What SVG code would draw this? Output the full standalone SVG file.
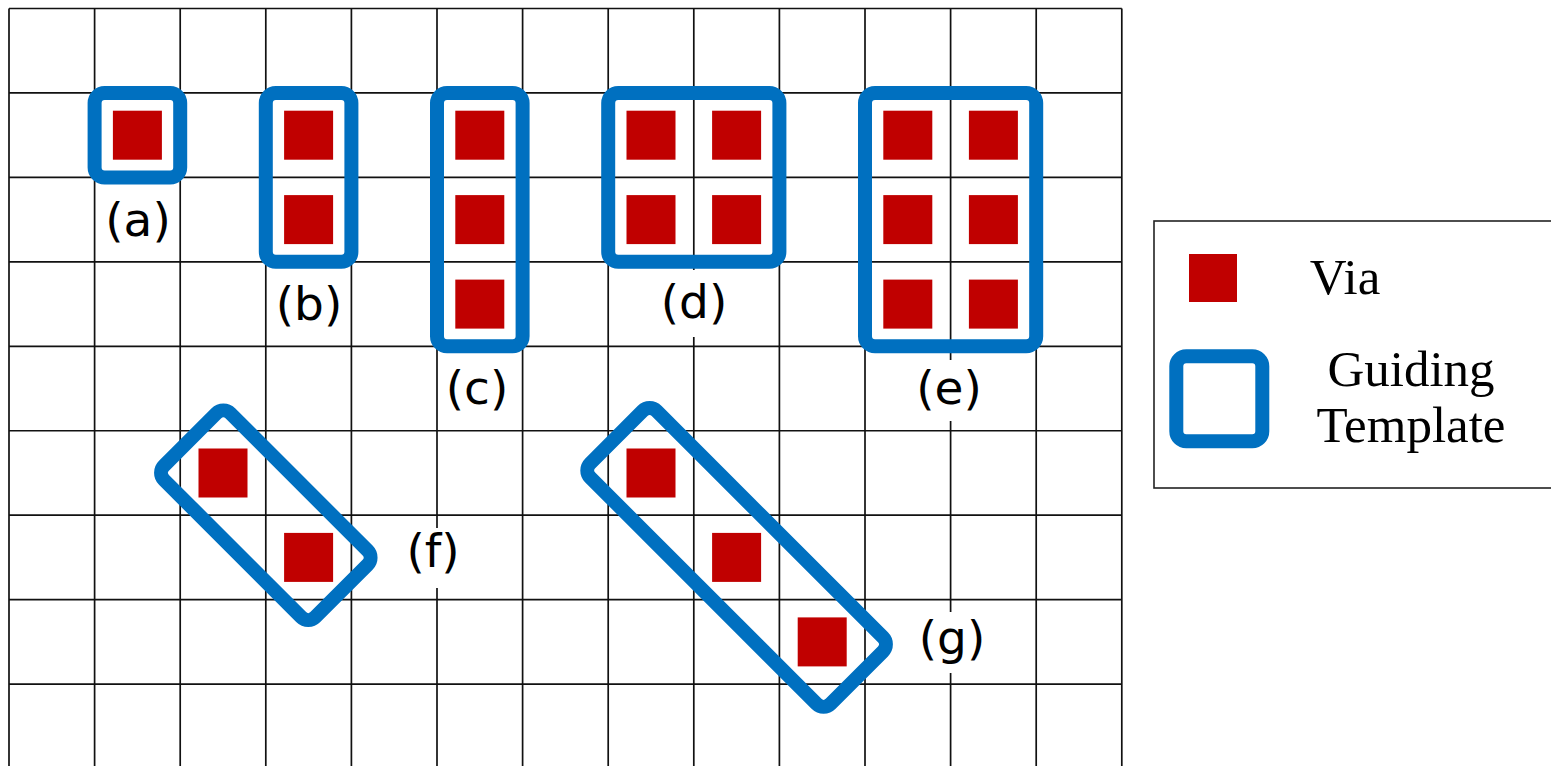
<svg xmlns="http://www.w3.org/2000/svg" width="1551" height="766" viewBox="0 0 1551 766">
<style>
.grid line{stroke:#111;stroke-width:1.7}
.via{fill:#C00000}
.tpl{fill:none;stroke:#0070C0;stroke-width:14}
.lbl{font-family:"DejaVu Sans",sans-serif;font-size:47px;fill:#000;text-anchor:middle}
.leg{font-family:"Liberation Serif",serif;font-size:51px;fill:#000;text-anchor:middle}
.bg{fill:#fff}
</style>
<defs>
<rect id="v" class="via" x="-24.5" y="-24.5" width="49" height="49"/>
</defs>
<rect width="1551" height="766" fill="#fff"/>
<g class="grid" id="grid">
<line x1="9" y1="8.5" x2="9" y2="766"/>
<line x1="94.6" y1="8.5" x2="94.6" y2="766"/>
<line x1="180.2" y1="8.5" x2="180.2" y2="766"/>
<line x1="265.8" y1="8.5" x2="265.8" y2="766"/>
<line x1="351.4" y1="8.5" x2="351.4" y2="766"/>
<line x1="437" y1="8.5" x2="437" y2="766"/>
<line x1="522.6" y1="8.5" x2="522.6" y2="766"/>
<line x1="608.2" y1="8.5" x2="608.2" y2="766"/>
<line x1="693.8" y1="8.5" x2="693.8" y2="766"/>
<line x1="779.4" y1="8.5" x2="779.4" y2="766"/>
<line x1="865" y1="8.5" x2="865" y2="766"/>
<line x1="950.6" y1="8.5" x2="950.6" y2="766"/>
<line x1="1036.2" y1="8.5" x2="1036.2" y2="766"/>
<line x1="1121.8" y1="8.5" x2="1121.8" y2="766"/>
<line x1="9" y1="8.5" x2="1121.8" y2="8.5"/>
<line x1="9" y1="92.95" x2="1121.8" y2="92.95"/>
<line x1="9" y1="177.4" x2="1121.8" y2="177.4"/>
<line x1="9" y1="261.85" x2="1121.8" y2="261.85"/>
<line x1="9" y1="346.3" x2="1121.8" y2="346.3"/>
<line x1="9" y1="430.75" x2="1121.8" y2="430.75"/>
<line x1="9" y1="515.2" x2="1121.8" y2="515.2"/>
<line x1="9" y1="599.65" x2="1121.8" y2="599.65"/>
<line x1="9" y1="684.1" x2="1121.8" y2="684.1"/>
</g>
<g id="a">
<use href="#v" x="137.4" y="135.2"/>
<rect class="tpl" x="94.6" y="92.95" width="85.6" height="84.45" rx="10"/>
<text class="lbl" x="138" y="236">(a)</text>
</g>
<g id="b">
<use href="#v" x="308.6" y="135.2"/>
<use href="#v" x="308.6" y="219.6"/>
<rect class="tpl" x="265.8" y="92.95" width="85.6" height="168.9" rx="10"/>
<text class="lbl" x="309" y="320">(b)</text>
</g>
<g id="c">
<use href="#v" x="479.8" y="135.2"/>
<use href="#v" x="479.8" y="219.6"/>
<use href="#v" x="479.8" y="304.1"/>
<rect class="tpl" x="437" y="92.95" width="85.6" height="253.35" rx="10"/>
<text class="lbl" x="477" y="404">(c)</text>
</g>
<g id="d">
<use href="#v" x="651" y="135.2"/>
<use href="#v" x="736.6" y="135.2"/>
<use href="#v" x="651" y="219.6"/>
<use href="#v" x="736.6" y="219.6"/>
<rect class="tpl" x="608.2" y="92.95" width="171.2" height="168.9" rx="10"/>
<rect class="bg" x="656" y="270" width="76" height="67"/>
<text class="lbl" x="694" y="318">(d)</text>
</g>
<g id="e">
<use href="#v" x="907.8" y="135.2"/>
<use href="#v" x="993.4" y="135.2"/>
<use href="#v" x="907.8" y="219.6"/>
<use href="#v" x="993.4" y="219.6"/>
<use href="#v" x="907.8" y="304.1"/>
<use href="#v" x="993.4" y="304.1"/>
<rect class="tpl" x="865" y="92.95" width="171.2" height="253.35" rx="10"/>
<rect class="bg" x="912" y="360" width="76" height="61"/>
<text class="lbl" x="949" y="404">(e)</text>
</g>
<g id="f">
<use href="#v" x="223" y="473"/>
<use href="#v" x="308.6" y="557.4"/>
<rect class="tpl" x="-107" y="-47" width="214" height="94" rx="10" transform="translate(265.8 515.2) rotate(45)"/>
<rect class="bg" x="400" y="528" width="66" height="60"/>
<text class="lbl" x="433" y="567">(f)</text>
</g>
<g id="g">
<use href="#v" x="651" y="473"/>
<use href="#v" x="736.6" y="557.4"/>
<use href="#v" x="822.2" y="641.9"/>
<rect class="tpl" x="-170" y="-47" width="340" height="94" rx="10" transform="translate(736.6 557.4) rotate(45)"/>
<rect class="bg" x="913" y="612" width="78" height="61"/>
<text class="lbl" x="952" y="654">(g)</text>
</g>
<g id="legend">
<rect x="1154" y="221" width="420" height="267" fill="#fff" stroke="#222" stroke-width="1.6"/>
<rect class="via" x="1189" y="254" width="48" height="48"/>
<text class="leg" x="1345" y="294">Via</text>
<rect class="tpl" x="1176.3" y="356.3" width="86" height="85" rx="10"/>
<text class="leg" x="1411" y="386">Guiding</text>
<text class="leg" x="1411" y="442">Template</text>
</g>
</svg>
